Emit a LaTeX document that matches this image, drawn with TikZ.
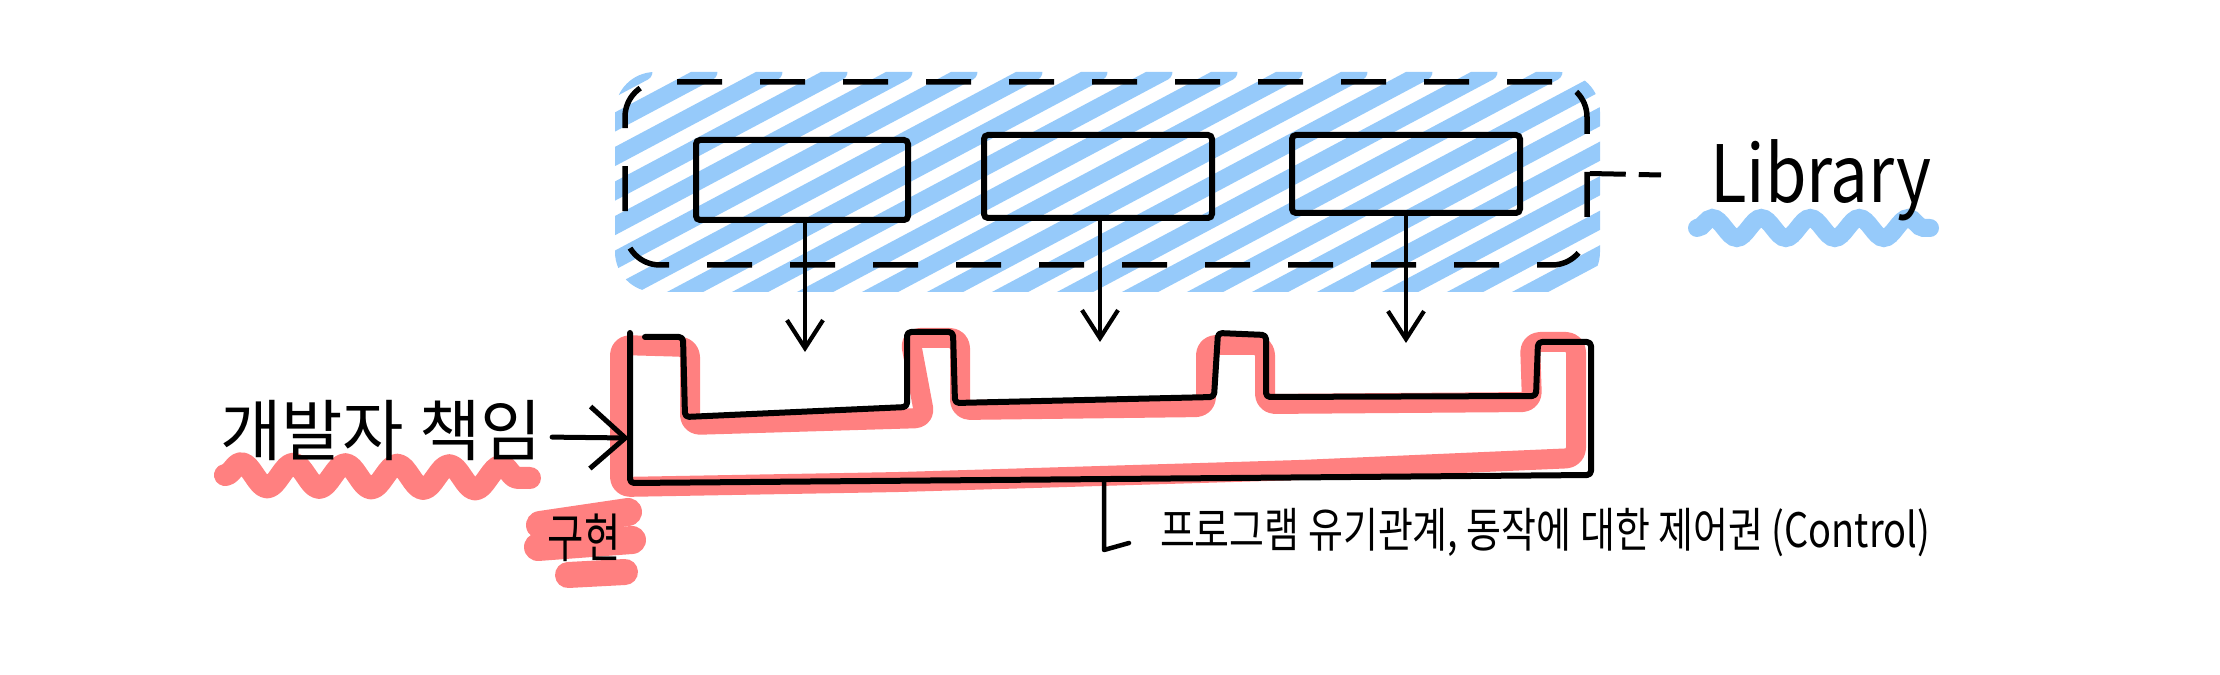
\documentclass[tikz,border=0pt]{standalone}
\usepackage{fontspec}
\setmainfont{Noto Sans CJK KR}
\newfontfamily\handA{Noto Sans CJK KR}
\newfontfamily\handB[FakeStretch=0.8]{Noto Sans CJK KR}
\newfontfamily\handC[FakeStretch=0.75]{Noto Sans CJK KR}
\newfontfamily\handL[FakeStretch=0.85]{Noto Sans CJK KR}
\usetikzlibrary{arrows.meta,decorations.pathmorphing}
\definecolor{hlblue}{RGB}{150,202,250}
\definecolor{hlred}{RGB}{255,128,128}
\tikzset{
  ink/.style={line width=0.6mm, line cap=round, line join=round, black},
  thinink/.style={line width=0.42mm, line cap=round, line join=round, black},
  libbox/.style={draw, line width=0.55mm, dash pattern=on 4.5mm off 3.8mm, rounded corners=3.5mm, minimum width=96.2mm, minimum height=18.3mm, inner sep=0},
  modbox/.style={draw, line width=0.6mm, rounded corners=0.4mm, inner sep=0},
  downarr/.style={thinink, -{Straight Barb[length=2.8mm,width=3.6mm]}},
  redhl/.style={hlred, line width=2mm, line cap=round, line join=round},
  bluehl/.style={hlblue, line width=1.7mm, line cap=round},
  txt/.style={inner sep=0, outer sep=0},
}
\begin{document}
\begin{tikzpicture}[x=0.1mm,y=-0.1mm]
\useasboundingbox (0,0) rectangle (2220,675);
% blue hatch
\begin{scope}
  \clip[rounded corners=4mm] (615,72) rectangle (1600,292);
  \foreach \x in {150,215,...,1650} \draw[bluehl] (\x,300) -- ++(429,-228);
\end{scope}
% library box and modules
\node[libbox] (lib) at (1106,173.5) {};
\node[modbox, minimum width=21.2mm, minimum height=8mm] (m1) at (802,180) {};
\node[modbox, minimum width=22.8mm, minimum height=8.3mm] (m2) at (1098,176.5) {};
\node[modbox, minimum width=22.8mm, minimum height=7.8mm] (m3) at (1406,174) {};
% comb (program)
\draw[redhl, rounded corners=1mm] (620,345) -- (620,487) -- (900,482) -- (1300,470) -- (1576,458) -- (1576,342) -- (1530,342) -- (1532,402) -- (1265,404) -- (1265,345) -- (1206,345) -- (1206,407) -- (960,410) -- (960,338) -- (910,338) -- (925,418) -- (690,425) -- (690,347) -- cycle;
\draw[ink, rounded corners=0.4mm] (645,337) -- (683,337) -- (685,417) -- (907,407) -- (907,332) -- (953,332) -- (955,403) -- (1214,397) -- (1218,333) -- (1266,335) -- (1266,397) -- (1536,396) -- (1538,342) -- (1591,342) -- (1591,475) -- (630,483) -- (630,333);
\coordinate (combL) at (629,438);
\coordinate (combB) at (1104,481);
% arrows into the comb
\coordinate (t1) at (805,352);
\coordinate (t2) at (1100,342);
\coordinate (t3) at (1406,343);
\draw[downarr] (m1.south -| t1) -- (t1);
\draw[downarr] (m2.south -| t2) -- (t2);
\draw[downarr] (m3.south -| t3) -- (t3);
% left label
\draw[redhl, line width=2.2mm, decorate, decoration={snake, segment length=5.2mm, amplitude=1.2mm}] (225,475) -- (530,478);
\node[txt, anchor=west, font=\handA\fontsize{19pt}{22pt}\selectfont] (dev) at (220,430) {개발자 책임};
\draw[line width=0.5mm, line cap=round, -{Straight Barb[length=3.5mm,width=6.2mm]}, shorten <=1mm] ([yshift=-0.7mm]dev.east) -- (combL);
% implementation
\draw[redhl, line width=2.8mm] (540,525) -- (628,512);
\draw[redhl, line width=2.8mm] (538,547) -- (632,540);
\draw[redhl, line width=2.6mm] (568,575) -- (625,572);
\node[txt, font=\handC\fontsize{15pt}{18pt}\selectfont] (impl) at (584,538) {구현};
% control note
\coordinate (ctlhook) at (1104,550);
\draw[thinink, line width=0.45mm] (combB) -- (ctlhook) -- ++(25,-7);
\node[txt, anchor=west, font=\handB\fontsize{13.5pt}{16pt}\selectfont] (ctl) at (1160,533) {프로그램 유기관계, 동작에 대한 제어권 (Control)};
% library label
\coordinate (libtag) at (1661,175);
\draw[line width=0.5mm, dash pattern=on 3.6mm off 1.3mm] (lib.east) -- (libtag);
\draw[bluehl, line width=1.8mm, decorate, decoration={snake, segment length=4.9mm, amplitude=1mm}] (1697,228) -- (1930,228);
\node[txt, anchor=base west, font=\handL\fontsize{22.5pt}{26pt}\selectfont] (libl) at (1710,203) {Library};
\end{tikzpicture}
\end{document}
